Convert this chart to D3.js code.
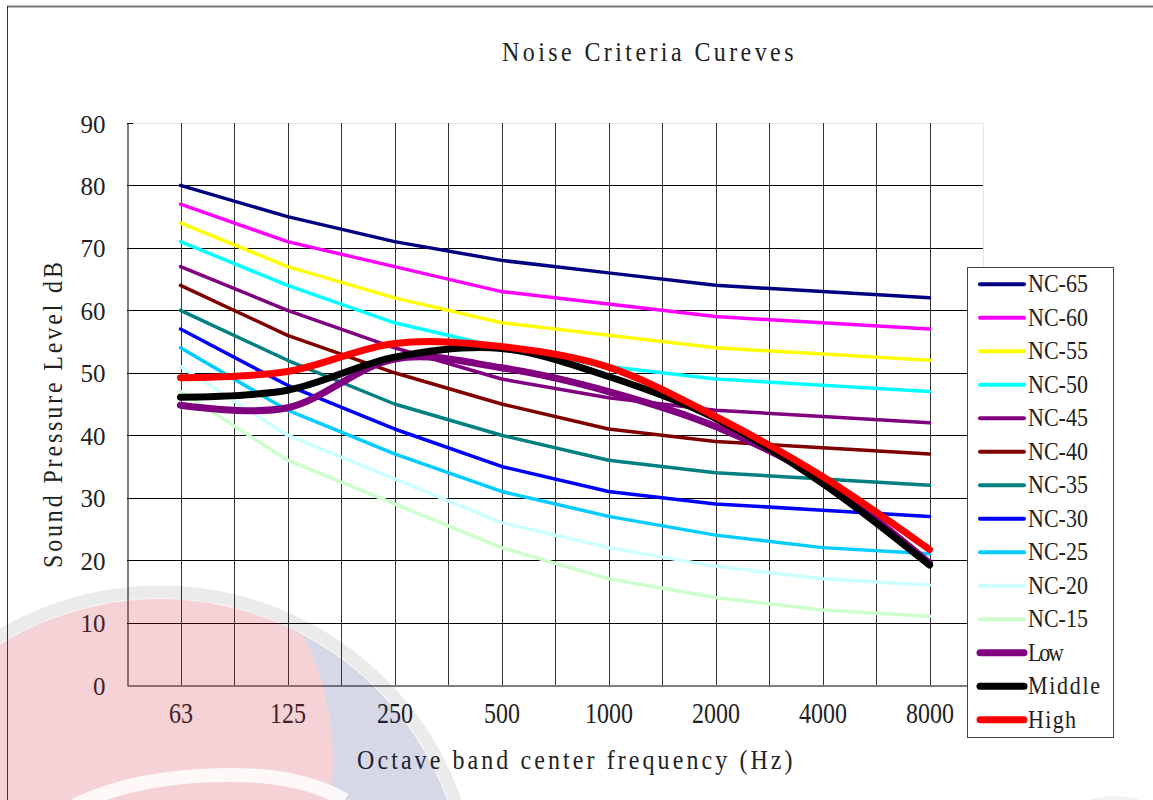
<!DOCTYPE html>
<html>
<head>
<meta charset="utf-8">
<script src="https://cdn.jsdelivr.net/npm/d3@7"></script>
<style>
  html, body { margin: 0; padding: 0; background: #fff; }
  svg { display: block; }
</style>
</head>
<body>
<svg id="chart" width="1153" height="800"></svg>
<script>
// Octave band centre frequencies (Hz)
const frequencies = ["63", "125", "250", "500", "1000", "2000", "4000", "8000"];
const yTicks = [0, 10, 20, 30, 40, 50, 60, 70, 80, 90];

// Noise criteria reference curves (dB)
const nc65 = [80, 75, 71, 68, 66, 64, 63, 62];
const nc60 = [77, 71, 67, 63, 61, 59, 58, 57];
const nc55 = [74, 67, 62, 58, 56, 54, 53, 52];
const nc50 = [71, 64, 58, 54, 51, 49, 48, 47];
const nc45 = [67, 60, 54, 49, 46, 44, 43, 42];
const nc40 = [64, 56, 50, 45, 41, 39, 38, 37];
const nc35 = [60, 52, 45, 40, 36, 34, 33, 32];
const nc30 = [57, 48, 41, 35, 31, 29, 28, 27];
const nc25 = [54, 44, 37, 31, 27, 24, 22, 21];
const nc20 = [51, 40, 33, 26, 22, 19, 17, 16];
const nc15 = [47, 36, 29, 22, 17, 14, 12, 11];

// Measured spectra (dB)
const low    = [44.8, 44.4, 52.2, 50.8, 47.0, 41.4, 32.8, 19.5];
const middle = [46.1, 47.2, 52.5, 53.9, 49.4, 42.7, 32.3, 19.2];
const high   = [49.2, 50.2, 54.7, 54.2, 50.9, 43.0, 33.4, 21.7];

const series = [
  { name: "NC-65", values: nc65, color: "#000080", thick: false },
  { name: "NC-60", values: nc60, color: "#FF00FF", thick: false },
  { name: "NC-55", values: nc55, color: "#FFFF00", thick: false },
  { name: "NC-50", values: nc50, color: "#00FFFF", thick: false },
  { name: "NC-45", values: nc45, color: "#800080", thick: false },
  { name: "NC-40", values: nc40, color: "#800000", thick: false },
  { name: "NC-35", values: nc35, color: "#008080", thick: false },
  { name: "NC-30", values: nc30, color: "#0000FF", thick: false },
  { name: "NC-25", values: nc25, color: "#00CCFF", thick: false },
  { name: "NC-20", values: nc20, color: "#CCFFFF", thick: false },
  { name: "NC-15", values: nc15, color: "#CCFFCC", thick: false },
  { name: "Low",    values: low,    color: "#800080", thick: true },
  { name: "Middle", values: middle, color: "#000000", thick: true },
  { name: "High",   values: high,   color: "#FF0000", thick: true }
];

const svg = d3.select("#chart");
const plot = { left: 127, right: 983, top: 123, bottom: 685 };

// Category index -> x (each band occupies one unit, centred on the integer)
const x = d3.scaleLinear().domain([-0.5, frequencies.length - 0.5]).range([plot.left, plot.right]);
const y = d3.scaleLinear().domain([0, 90]).range([plot.bottom, plot.top]);

const serifFont = "'Liberation Serif', 'DejaVu Serif', serif";
const textColor = "#222";

// Fixed-pitch serif text: every character gets the same advance
function pitched(sel, str, pitch) {
  sel.attr("font-family", serifFont).attr("fill", textColor)
    .attr("textLength", str.length * pitch).attr("lengthAdjust", "spacing")
    .text(str);
}

// Outer chart frame (top and left edges)
svg.append("line").attr("x1", 7).attr("x2", 1153).attr("y1", 6.5).attr("y2", 6.5)
  .attr("stroke", "#7a7a7a").attr("stroke-width", 2);
svg.append("line").attr("x1", 7.5).attr("x2", 7.5).attr("y1", 6).attr("y2", 800)
  .attr("stroke", "#333").attr("stroke-width", 1);

// Title
svg.append("text")
  .attr("transform", "translate(502,61) scale(1,1.12)")
  .attr("font-size", 24)
  .call(pitched, "Noise Criteria Cureves", 13.25);

// Grid: horizontal lines at each y tick
const grid = svg.append("g");
grid.selectAll("line.h").data(yTicks.filter(d => d > 0)).join("line")
  .attr("x1", plot.left).attr("x2", plot.right)
  .attr("y1", d => Math.round(y(d)) + 0.5).attr("y2", d => Math.round(y(d)) + 0.5)
  .attr("stroke", d => d === 90 ? "#e6e6e6" : "#000").attr("stroke-width", 1);
// short tick at the top of the value axis
grid.append("line").attr("x1", plot.left).attr("x2", plot.left + 6)
  .attr("y1", Math.round(y(90)) + 0.5).attr("y2", Math.round(y(90)) + 0.5)
  .attr("stroke", "#000");

// Vertical lines at every band centre and band edge
const vSteps = d3.range(0, frequencies.length * 2 - 1).map(i => i / 2);
grid.selectAll("line.v").data(vSteps).join("line")
  .attr("x1", d => Math.round(x(d)) + 0.5).attr("x2", d => Math.round(x(d)) + 0.5)
  .attr("y1", plot.top).attr("y2", plot.bottom)
  .attr("stroke", "#333").attr("stroke-width", 1);
// right edge of plot area
grid.append("line")
  .attr("x1", plot.right + 0.5).attr("x2", plot.right + 0.5)
  .attr("y1", plot.top).attr("y2", plot.bottom)
  .attr("stroke", "#e6e6e6");

// Axes
const yAxis = d3.axisLeft(y).tickValues(yTicks).tickSize(0).tickPadding(22);
const gy = svg.append("g").attr("transform", `translate(${plot.left + 0.5},0)`).call(yAxis);
gy.select(".domain").attr("stroke", "#000");
gy.selectAll("text")
  .attr("font-family", serifFont).attr("font-size", 25).attr("fill", textColor)
  .attr("dy", "0.36em");

const xAxis = d3.axisBottom(x).tickValues(d3.range(frequencies.length))
  .tickFormat(i => frequencies[i]).tickSize(0).tickPadding(0);
const gx = svg.append("g").attr("transform", `translate(0,${plot.bottom + 0.5})`).call(xAxis);
gx.select(".domain").attr("stroke", "#000");
gx.selectAll("text")
  .attr("font-family", serifFont).attr("font-size", 24).attr("fill", textColor)
  .attr("y", 0).attr("dy", 0)
  .attr("transform", "translate(0,37) scale(1,1.2)");

// Axis titles
svg.append("text")
  .attr("transform", "translate(357,769) scale(1,1.12)")
  .attr("font-size", 24)
  .call(pitched, "Octave band center frequency (Hz)", 13.2);
svg.append("text")
  .attr("transform", "translate(62,568) rotate(-90) scale(1,1.12)")
  .attr("font-size", 24)
  .call(pitched, "Sound Pressure Level dB", 13.3);

// Curves: reference curves as straight segments, measured spectra smoothed
const straight = d3.line().x((d, i) => x(i)).y(d => y(d));
const smooth = d3.line().x((d, i) => x(i)).y(d => y(d)).curve(d3.curveCardinal.tension(0));

const lines = svg.append("g").attr("fill", "none")
  .attr("stroke-linecap", "round").attr("stroke-linejoin", "round");
lines.selectAll("path").data(series).join("path")
  .attr("d", s => (s.thick ? smooth : straight)(s.values))
  .attr("stroke", s => s.color)
  .attr("stroke-width", s => s.thick ? 7 : 3.5);

// Legend
const legend = svg.append("g");
legend.append("rect")
  .attr("x", 967.5).attr("y", 267.5).attr("width", 146).attr("height", 470)
  .attr("fill", "#fff").attr("stroke", "#444").attr("stroke-width", 1);
const item = legend.selectAll("g.item").data(series).join("g")
  .attr("transform", (s, i) => `translate(0,${284.3 + i * 33.5})`);
item.append("line")
  .attr("x1", 980).attr("x2", 1024).attr("y1", 0).attr("y2", 0)
  .attr("stroke", s => s.color).attr("stroke-width", s => s.thick ? 7 : 4)
  .attr("stroke-linecap", "round");
item.append("text")
  .attr("transform", "translate(1028,8) scale(1,1.12)")
  .attr("font-size", 22)
  .each(function (s) { d3.select(this).call(pitched, s.name, 12); });

// Faint circular emblem in the lower-left corner
const emblem = svg.append("g").attr("pointer-events", "none");
const defs = svg.append("defs");
defs.append("clipPath").attr("id", "emblem-inner")
  .append("circle").attr("cx", 160).attr("cy", 905).attr("r", 306);
const mask = defs.append("mask").attr("id", "emblem-right");
mask.append("rect").attr("x", 0).attr("y", 0).attr("width", 1153).attr("height", 800).attr("fill", "#fff");
mask.append("circle").attr("cx", 55).attr("cy", 760).attr("r", 278).attr("fill", "#000");

emblem.append("circle").attr("cx", 160).attr("cy", 905).attr("r", 313)
  .attr("fill", "none").attr("stroke", "rgba(0,0,0,0.08)").attr("stroke-width", 13);
const inner = emblem.append("g").attr("clip-path", "url(#emblem-inner)");
inner.append("circle").attr("cx", 160).attr("cy", 905).attr("r", 306)
  .attr("fill", "rgba(30,40,120,0.18)").attr("mask", "url(#emblem-right)");
inner.append("circle").attr("cx", 55).attr("cy", 760).attr("r", 278)
  .attr("fill", "rgba(200,30,50,0.2)");
inner.append("path")
  .attr("d", "M 75 805 Q 150 770 260 776 Q 310 780 345 800")
  .attr("fill", "none").attr("stroke", "rgba(255,255,255,0.85)").attr("stroke-width", 14);
emblem.append("ellipse").attr("cx", 1115).attr("cy", 812).attr("rx", 40).attr("ry", 16)
  .attr("fill", "rgba(0,0,0,0.05)");
</script>
</body>
</html>
